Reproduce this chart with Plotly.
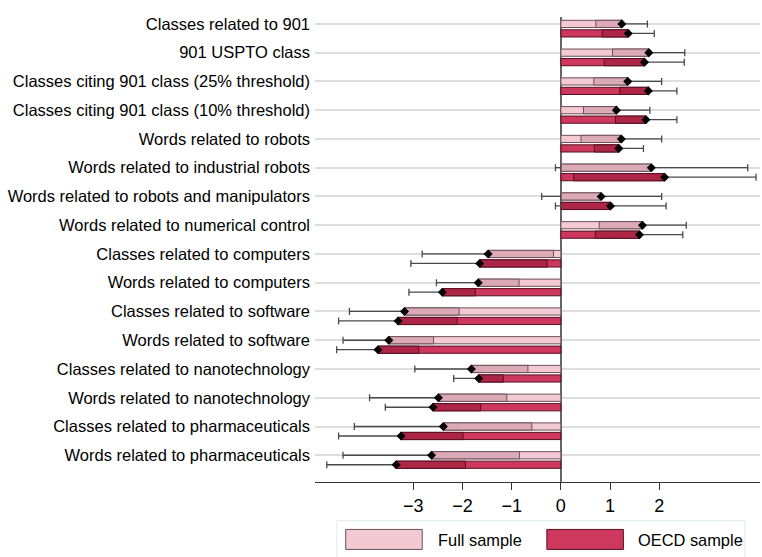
import plotly.graph_objects as go

categories = [
    "Classes related to 901",
    "901 USPTO class",
    "Classes citing 901 class (25% threshold)",
    "Classes citing 901 class (10% threshold)",
    "Words related to robots",
    "Words related to industrial robots",
    "Words related to robots and manipulators",
    "Words related to numerical control",
    "Classes related to computers",
    "Words related to computers",
    "Classes related to software",
    "Words related to software",
    "Classes related to nanotechnology",
    "Words related to nanotechnology",
    "Classes related to pharmaceuticals",
    "Words related to pharmaceuticals",
]

est_full = [1.24, 1.79, 1.36, 1.13, 1.23, 1.84, 0.82, 1.66,
            -1.48, -1.68, -3.18, -3.50, -1.82, -2.49, -2.39, -2.63]
lo_full = [0.71, 1.05, 0.67, 0.46, 0.41, -0.11, -0.39, 0.78,
           -2.82, -2.53, -4.30, -4.43, -2.97, -3.89, -4.20, -4.43]
hi_full = [1.76, 2.52, 2.05, 1.81, 2.05, 3.80, 2.05, 2.55,
           -0.15, -0.85, -2.07, -2.59, -0.67, -1.10, -0.59, -0.84]

est_oecd = [1.37, 1.70, 1.78, 1.73, 1.18, 2.11, 1.01, 1.60,
            -1.65, -2.41, -3.31, -3.72, -1.67, -2.60, -3.25, -3.35]
lo_oecd = [0.84, 0.88, 1.20, 1.11, 0.68, 0.26, -0.11, 0.70,
           -3.05, -3.09, -4.52, -4.56, -2.18, -3.57, -4.52, -4.76]
hi_oecd = [1.90, 2.51, 2.36, 2.36, 1.68, 3.97, 2.14, 2.48,
           -0.28, -1.74, -2.11, -2.89, -1.17, -1.63, -1.99, -1.94]

x_ticks = [-3, -2, -1, 0, 1, 2]

series = [
    dict(name="Full sample", est=est_full, lo=lo_full, hi=hi_full, offset=0.0,
         fill="#f3cad4", inner="#dcaab7", line="#6e5058"),
    dict(name="OECD sample", est=est_oecd, lo=lo_oecd, hi=hi_oecd, offset=0.33,
         fill="#cf385e", inner="#ad2547", line="#561020"),
]

BAR_W = 0.25
fig = go.Figure()

for s in series:
    ys = [i + s["offset"] for i in range(len(categories))]
    # main bar: 0 -> estimate
    fig.add_trace(go.Bar(
        y=ys, x=s["est"], base=[0] * len(ys), orientation="h", width=BAR_W,
        marker=dict(color=s["fill"], line=dict(color=s["line"], width=1)),
        showlegend=False, hoverinfo="skip"))
    # inner CI half (near side), clipped at zero
    inner_base, inner_len = [], []
    for e, lo, hi in zip(s["est"], s["lo"], s["hi"]):
        near = max(lo, 0) if e >= 0 else min(hi, 0)
        inner_base.append(e)
        inner_len.append(near - e)
    fig.add_trace(go.Bar(
        y=ys, x=inner_len, base=inner_base, orientation="h", width=BAR_W,
        marker=dict(color=s["inner"], line=dict(color=s["line"], width=1)),
        showlegend=False, hoverinfo="skip"))

for s in series:
    ys = [i + s["offset"] for i in range(len(categories))]
    plus = [hi - e if e >= 0 else 0 for e, lo, hi in zip(s["est"], s["lo"], s["hi"])]
    minus = [0 if e >= 0 else e - lo for e, lo, hi in zip(s["est"], s["lo"], s["hi"])]
    fig.add_trace(go.Scatter(
        x=s["est"], y=ys, mode="markers",
        marker=dict(symbol="diamond", size=7, color="black"),
        error_x=dict(type="data", symmetric=False, array=plus, arrayminus=minus,
                     color="#4a4a4a", thickness=1.3, width=3.5),
        showlegend=False, hoverinfo="skip"))
    # whiskers that cross zero on the other side
    cx, cy, cp, cm = [], [], [], []
    for y, e, lo, hi in zip(ys, s["est"], s["lo"], s["hi"]):
        if e >= 0 and lo < 0:
            cx.append(0); cy.append(y); cp.append(0); cm.append(-lo)
        elif e < 0 and hi > 0:
            cx.append(0); cy.append(y); cp.append(hi); cm.append(0)
    if cx:
        fig.add_trace(go.Scatter(
            x=cx, y=cy, mode="markers", marker=dict(size=1, color="rgba(0,0,0,0)"),
            error_x=dict(type="data", symmetric=False, array=cp, arrayminus=cm,
                         color="#4a4a4a", thickness=1.3, width=3.5),
            showlegend=False, hoverinfo="skip"))

# manual legend
shapes = [
    dict(type="rect", xref="paper", yref="paper", x0=0.049, x1=0.966, y0=-0.175, y1=-0.083,
         line=dict(color="#e2eaee", width=1), fillcolor="rgba(0,0,0,0)"),
]
annotations = []
leg_pos = [(0.069, 0.241, 0.272), (0.521, 0.693, 0.721)]
for s, (x0, x1, xt) in zip(series, leg_pos):
    shapes.append(dict(type="rect", xref="paper", yref="paper", x0=x0, x1=x1,
                       y0=-0.145, y1=-0.102, fillcolor=s["fill"],
                       line=dict(color=s["line"], width=1)))
    annotations.append(dict(xref="paper", yref="paper", x=xt, y=-0.124, text=s["name"],
                            showarrow=False, xanchor="left", yanchor="middle",
                            font=dict(size=16.4, color="black")))

fig.update_layout(
    width=762, height=557,
    margin=dict(l=315, r=2, t=17, b=75, autoexpand=False),
    barmode="overlay",
    plot_bgcolor="white", paper_bgcolor="white",
    font=dict(family="Liberation Sans, Arial, sans-serif", color="black"),
    shapes=shapes, annotations=annotations,
    showlegend=False,
)
fig.update_xaxes(
    range=[-5.0, 4.05], tickvals=x_ticks, ticks="outside", ticklen=7, tickwidth=1.3,
    tickcolor="#333", showline=True, linecolor="#333", linewidth=1.3,
    showgrid=False, zeroline=True, zerolinecolor="#666", zerolinewidth=1.5,
    tickfont=dict(size=18, color="black"), automargin=False,
)
fig.update_yaxes(
    range=[15.93, -0.24], tickvals=list(range(len(categories))), ticktext=categories,
    showgrid=True, gridcolor="#dedede", gridwidth=1.5, zeroline=False,
    ticks="", ticklabelstandoff=4,
    tickfont=dict(size=16.5, color="black"), automargin=False,
)

fig.write_html("out.html", config={"displayModeBar": False},
               post_script="document.body.style.margin='0px';")
